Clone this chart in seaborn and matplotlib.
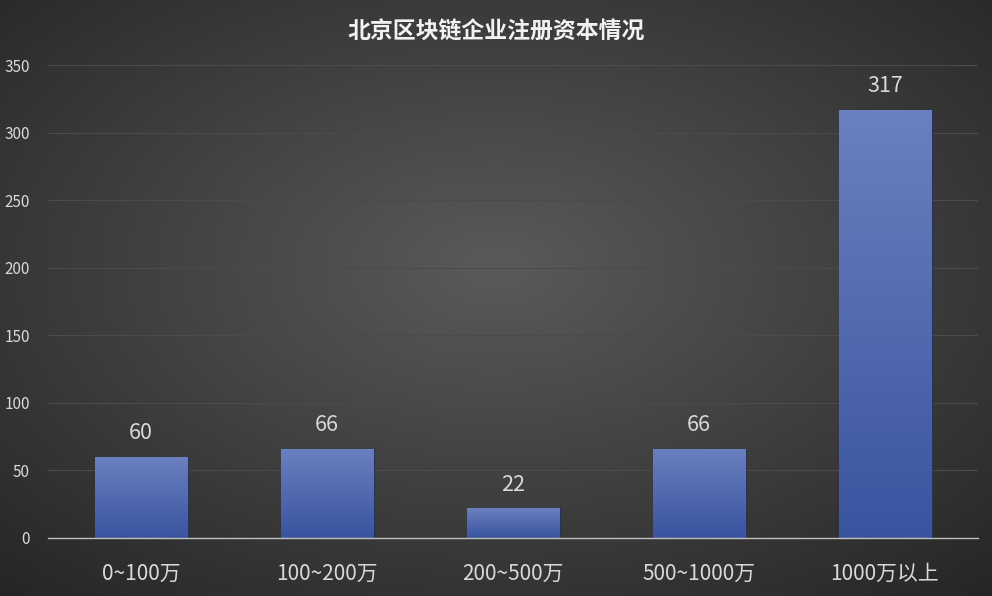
import numpy as np
import matplotlib
matplotlib.use('Agg')
import matplotlib.pyplot as plt
import seaborn as sns

# data
categories = ['0~100万', '100~200万', '200~500万', '500~1000万', '1000万以上']
counts = [60, 66, 22, 66, 317]
yticks = [0, 50, 100, 150, 200, 250, 300, 350]
title = '北京区块链企业注册资本情况'

sns.set_style('dark')
plt.rcParams['font.family'] = ['Noto Sans CJK SC', 'DejaVu Sans']

fig = plt.figure(figsize=(9.92, 5.96), dpi=100)

# radial gradient background
bg = fig.add_axes([0, 0, 1, 1], zorder=-10)
gx, gy = np.meshgrid(np.linspace(0, 1, 400), np.linspace(0, 1, 240))
r = np.sqrt(((gx - 0.5) / 0.75) ** 2 + ((gy - 0.45) / 0.75) ** 2)
r = np.clip(r, 0, 1)
c0 = np.array([0x5a, 0x5a, 0x5a]) / 255
c1 = np.array([0x25, 0x25, 0x25]) / 255
img = c0[None, None, :] * (1 - r[..., None]) + c1[None, None, :] * r[..., None]
bg.imshow(img, extent=[0, 1, 0, 1], aspect='auto', origin='upper')
bg.axis('off')

ax = fig.add_axes([48 / 992, 58 / 596, 930 / 992, 473 / 596])
ax.set_facecolor('none')

sns.barplot(x=categories, y=counts, ax=ax, width=0.5, color='#4a64ad',
            edgecolor='#26335c', linewidth=0.8, zorder=3)

# vertical gradient on bars
top = np.array([0x6b, 0x80, 0xc0]) / 255
bot = np.array([0x3a, 0x54, 0xa0]) / 255
t = np.linspace(0, 1, 100)[:, None]
grad = (top[None, :] * (1 - t) + bot[None, :] * t)[:, None, :]
for p in list(ax.patches):
    x0, w, h = p.get_x(), p.get_width(), p.get_height()
    im = ax.imshow(grad, extent=[x0, x0 + w, 0, h], aspect='auto',
                   origin='upper', zorder=4)
    im.set_clip_path(p)

for i, v in enumerate(counts):
    ax.annotate(str(v), (i, v), xytext=(0, 9), textcoords='offset points',
                ha='center', va='bottom', color='#d9d9d9', fontsize=15.5)

ax.set_xlim(-0.5, 4.5)
ax.set_ylim(0, 350)
ax.set_yticks(yticks)
ax.yaxis.grid(True, color='#4b4b4b', linewidth=0.8)
ax.xaxis.grid(False)
ax.set_axisbelow(True)
for s in ['top', 'right', 'left']:
    ax.spines[s].set_visible(False)
ax.spines['bottom'].set_color('#bfbfbf')
ax.spines['bottom'].set_linewidth(1)
ax.spines['bottom'].set_zorder(5)
ax.tick_params(axis='y', colors='#d9d9d9', labelsize=11, length=0, pad=13)
ax.tick_params(axis='x', colors='#d9d9d9', labelsize=15, length=0, pad=18)

fig.text(0.5, 1 - 32 / 596, title, ha='center', va='center',
         color='#f2f2f2', fontsize=16.5, fontweight='bold')

fig.savefig('out.png', dpi=100, facecolor=fig.get_facecolor())
